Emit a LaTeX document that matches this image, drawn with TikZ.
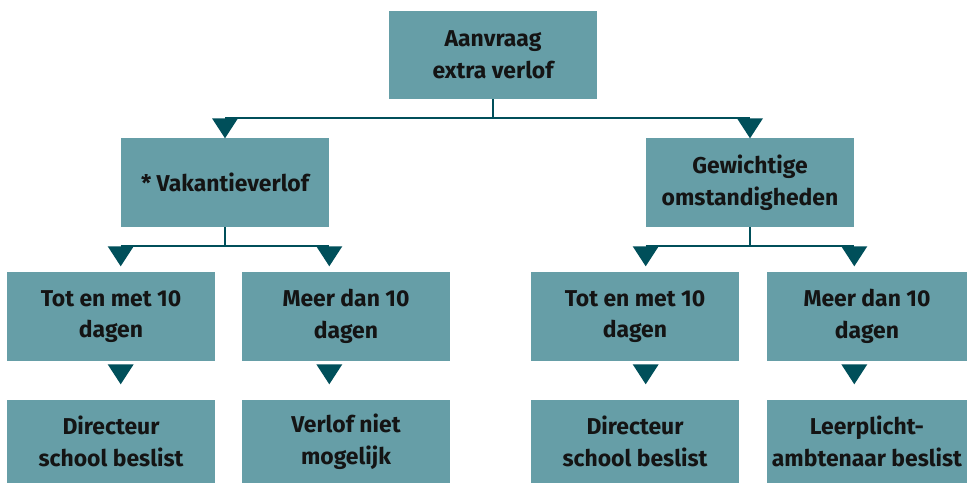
\documentclass[tikz,border=0pt]{standalone}
\usepackage{fontspec}
\setmainfont{Fira Sans}
\usetikzlibrary{calc}
\definecolor{boxFill}{RGB}{102,158,167}
\definecolor{lineDark}{RGB}{0,79,90}
\colorlet{ink}{black!92}
\tikzset{
  lijn/.style={draw=lineDark, line width=1.5pt},
  box/.style={
    fill=boxFill,
    minimum width=5.2cm,
    minimum height=2.2cm,
    inner sep=2pt,
    align=center,
    text=ink,
    font=\fontsize{16.3}{22.5}\selectfont\bfseries
  },
  eindbox/.style={box, minimum height=2.075cm}
}
% pijlpunt: base centre as argument, tip points down
\newcommand{\pijl}[1]{%
  \fill[lineDark] (#1) ++(-13,0) -- ++(26,0) -- ++(-13,20) -- cycle;
}

\begin{document}
\begin{tikzpicture}[x=0.025cm,y=-0.025cm]
  \useasboundingbox (0,0) rectangle (967,483);

  \node[box] (aanvraag) at (493,55) {Aanvraag\\extra verlof};
  \node[box, minimum height=2.225cm] (vakantie) at (225,182.5) {* Vakantieverlof};
  \node[box, minimum height=2.225cm] (gewicht) at (750,182.5) {Gewichtige\\omstandigheden};

  \node[box, minimum height=2.225cm] (tot1) at (111,316.5) {Tot en met 10\\dagen};
  \node[box, minimum height=2.225cm] (meer1) at (346,316.5) {Meer dan 10\\dagen};
  \node[box, minimum height=2.225cm] (tot2) at (635,316.5) {Tot en met 10\\dagen};
  \node[box, minimum height=2.225cm, minimum width=5.0cm] (meer2) at (867,316.5) {Meer dan 10\\dagen};

  \node[eindbox] (dir1) at (111,441.5) {Directeur\\school beslist};
  \node[eindbox] (verlof) at (346,441.5) {Verlof niet\\mogelijk};
  \node[eindbox] (dir2) at (635,441.5) {Directeur\\school beslist};
  \node[eindbox, minimum width=5.0cm] (leer) at (867,441.5) {Leerplicht-\\ambtenaar beslist};

  % eerste splitsing
  \draw[lijn] (aanvraag.south) -- ++(0,19) coordinate (tak1);
  \draw[lijn] (vakantie.north |- tak1) -- (gewicht.north |- tak1);
  \pijl{vakantie.north |- tak1}
  \pijl{gewicht.north |- tak1}

  % tweede splitsing
  \draw[lijn] (vakantie.south) -- ++(0,19) coordinate (tak2);
  \draw[lijn] (vakantie.west |- tak2) -- (vakantie.east |- tak2);
  \pijl{vakantie.west |- tak2}
  \pijl{vakantie.east |- tak2}
  \draw[lijn] (gewicht.south) -- ++(0,19) coordinate (tak3);
  \draw[lijn] (gewicht.west |- tak3) -- (gewicht.east |- tak3);
  \pijl{gewicht.west |- tak3}
  \pijl{gewicht.east |- tak3}

  % naar de beslissing
  \pijl{$(tot1.south -| vakantie.west)+(0,3)$}
  \pijl{$(meer1.south -| vakantie.east)+(0,3)$}
  \pijl{$(tot2.south -| gewicht.west)+(0,3)$}
  \pijl{$(meer2.south -| gewicht.east)+(0,3)$}
\end{tikzpicture}
\end{document}
